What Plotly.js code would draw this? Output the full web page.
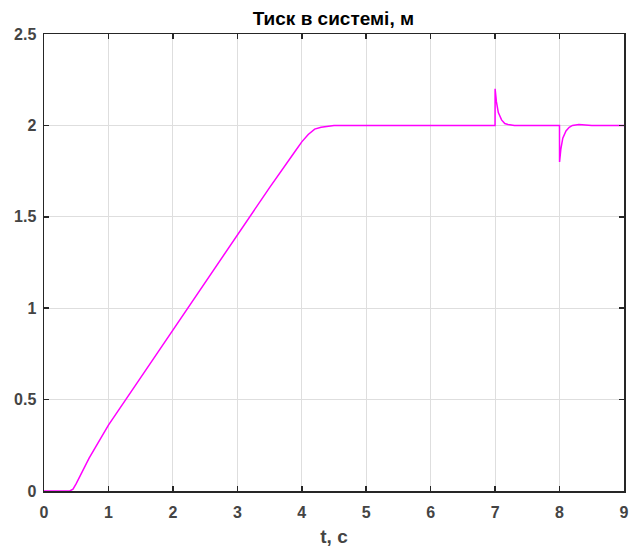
<!DOCTYPE html>
<html><head><meta charset="utf-8">
<script src="https://cdn.plot.ly/plotly-3.0.1.min.js"></script>
<style>body{margin:0;background:#fff}#c{width:629px;height:547px}</style>
</head><body><div id="c"></div>
<script>
const timeS = [0,0.4,0.45,0.5,0.6,0.7,0.8,0.9,1.0,1.5,2,2.5,3,3.5,3.9,4.0,4.1,4.2,4.3,4.4,4.5,4.7,5,6,6.999,7.0,7.02,7.05,7.1,7.15,7.2,7.3,7.5,7.999,8.0,8.02,8.05,8.1,8.15,8.2,8.3,8.5,9];
const pressure = [0,0,0.01,0.04,0.11,0.18,0.24,0.30,0.36,0.62,0.88,1.14,1.40,1.66,1.86,1.91,1.95,1.98,1.99,1.995,2,2,2,2,2,2.2,2.13,2.07,2.03,2.01,2.005,2,2,2,1.8,1.87,1.93,1.97,1.99,2.0,2.005,2.0,2.0];
const xTicks = [0,1,2,3,4,5,6,7,8,9];
const yTicks = [0,0.5,1,1.5,2,2.5];
const yTickText = ['0','0.5','1','1.5','2','2.5'];

const FONT = 'Liberation Sans, Arial, sans-serif';
const axBase = {
  showline:true, linecolor:'#262626', linewidth:1.5, mirror:'ticks',
  ticks:'inside', ticklen:5, tickcolor:'#262626', tickwidth:1.5,
  showgrid:true, gridcolor:'#dedede', gridwidth:1, zeroline:false,
  tickfont:{family:FONT, size:16, color:'#444444', weight:'bold'}
};
Plotly.newPlot('c', [{
  x: timeS, y: pressure, type:'scatter', mode:'lines',
  line:{color:'#ff00ff', width:1.5}, hoverinfo:'skip'
}], {
  width:629, height:547,
  margin:{l:44, r:5, t:34, b:56},
  paper_bgcolor:'#fff', plot_bgcolor:'#fff',
  showlegend:false,
  title:{text:'<b>Тиск в системі, м</b>', x:0.53, xanchor:'center', y:0.967, yanchor:'middle',
    font:{family:FONT, size:19, color:'#000'}},
  xaxis: Object.assign({}, axBase, {range:[0,9], tickvals:xTicks, ticklabelstandoff:6,
    title:{text:'t, с', standoff:10, font:{family:FONT, size:19, color:'#444444', weight:'bold'}}}),
  yaxis: Object.assign({}, axBase, {range:[0,2.5], tickvals:yTicks, ticktext:yTickText, ticklabelstandoff:3})
}, {displayModeBar:false, staticPlot:true});
</script></body></html>
